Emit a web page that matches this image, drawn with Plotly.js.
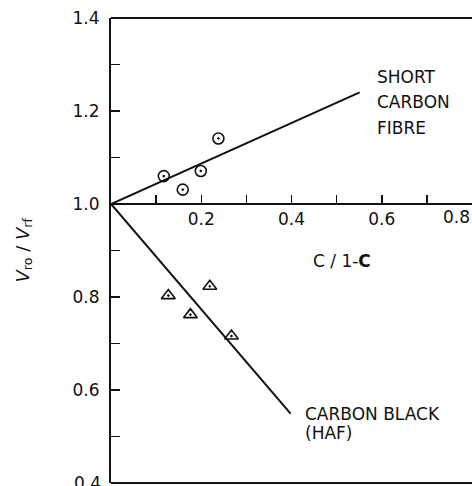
<!DOCTYPE html>
<html>
<head>
<meta charset="utf-8">
<script src="https://cdn.plot.ly/plotly-3.0.1.min.js"></script>
<style>
  html, body { margin: 0; padding: 0; background: #fff; }
  #chart { width: 472px; height: 486px; }
</style>
</head>
<body>
<div id="chart"></div>
<script>
// Measured points: short carbon fibre (circles) and carbon black HAF (triangles)
const fibreX = [0.117, 0.159, 0.199, 0.238];
const fibreY = [1.060, 1.031, 1.071, 1.141];
const blackX = [0.127, 0.176, 0.219, 0.267];
const blackY = [0.803, 0.762, 0.823, 0.716];

// Fitted straight lines through the origin point (0, 1.0)
const fibreLineX = [0, 0.551];
const fibreLineY = [1.0, 1.240];
const blackLineX = [0, 0.398];
const blackLineY = [1.0, 0.549];

// Labelled axis ticks (unlabelled minor ticks every 0.1)
const xTickVals = [0.2, 0.4, 0.6];
const xTickText = ['0.2', '0.4', '0.6'];
const xEdgeTick = 0.8;
const yTickVals = [0.6, 0.8, 1.0, 1.2, 1.4];
const yTickText = ['0.6', '0.8', '1.0', '1.2', '1.4'];
const yEdgeTick = 0.4;

// Curve labels
const fibreLabel = ['SHORT', 'CARBON', 'FIBRE'];
const blackLabel = ['CARBON BLACK', '(HAF)'];

const ink = '#111';
const font = { family: 'DejaVu Sans, sans-serif', size: 17, color: ink };

const traces = [
  { x: fibreLineX, y: fibreLineY, mode: 'lines', line: { color: ink, width: 2 }, hoverinfo: 'skip' },
  { x: blackLineX, y: blackLineY, mode: 'lines', line: { color: ink, width: 2 }, hoverinfo: 'skip' },
  { x: fibreX, y: fibreY, mode: 'markers',
    marker: { symbol: 'circle-open-dot', size: 11, color: ink, line: { width: 1.6, color: ink } } },
  { x: blackX, y: blackY, mode: 'markers',
    marker: { symbol: 'triangle-up-open-dot', size: 12, color: ink, line: { width: 1.6, color: ink } } }
];

const annotations = [];
const fibreLabelY = [1.273, 1.219, 1.163];
fibreLabel.forEach((t, i) => annotations.push({
  x: 0.586, y: fibreLabelY[i], xref: 'x', yref: 'y', text: t,
  xanchor: 'left', yanchor: 'middle', showarrow: false, font: font
}));
const blackLabelY = [0.548, 0.508];
blackLabel.forEach((t, i) => annotations.push({
  x: 0.425, y: blackLabelY[i], xref: 'x', yref: 'y', text: t,
  xanchor: 'left', yanchor: 'middle', showarrow: false, font: font
}));
// Edge tick labels that the axes would otherwise clip
annotations.push({
  x: xEdgeTick, y: 1.0, xref: 'x', yref: 'y', text: xEdgeTick.toFixed(1),
  xanchor: 'center', yanchor: 'middle', xshift: -16, yshift: -13, showarrow: false, font: font
});
annotations.push({
  x: 0, y: yEdgeTick, xref: 'paper', yref: 'y', text: yEdgeTick.toFixed(1),
  xanchor: 'right', yanchor: 'middle', xshift: -8, showarrow: false, font: font
});
// Axis titles
annotations.push({
  x: 0.513, y: 0.877, xref: 'x', yref: 'y', text: 'C / 1-<b>C</b>',
  xanchor: 'center', yanchor: 'middle', showarrow: false, font: font
});
annotations.push({
  x: 0, y: 0.5, xref: 'paper', yref: 'paper', xshift: -88,
  text: '<i>V</i><sub>ro</sub> / <i>V</i><sub>rf</sub>', textangle: -90,
  xanchor: 'center', yanchor: 'middle', showarrow: false,
  font: { family: 'DejaVu Sans, sans-serif', size: 18, color: ink }
});

const layout = {
  width: 472, height: 486,
  margin: { l: 111, r: 0, t: 18, b: 3 },
  paper_bgcolor: '#fff', plot_bgcolor: '#fff',
  showlegend: false,
  font: font,
  xaxis: {
    range: [0, 0.8], anchor: 'free', position: 0.6,
    tickmode: 'array', tickvals: xTickVals, ticktext: xTickText,
    ticks: 'inside', ticklen: 8, tickwidth: 1.5, tickcolor: ink,
    minor: { dtick: 0.1, tick0: 0, ticks: 'inside', ticklen: 8, tickwidth: 1.5, tickcolor: ink, showgrid: false },
    showline: true, linecolor: ink, linewidth: 2,
    showgrid: false, zeroline: false, tickfont: font
  },
  yaxis: {
    range: [0.4, 1.4],
    tickmode: 'array', tickvals: yTickVals, ticktext: yTickText,
    ticks: 'inside', ticklen: 9, tickwidth: 1.5, tickcolor: ink,
    minor: { dtick: 0.1, tick0: 0.4, ticks: 'inside', ticklen: 9, tickwidth: 1.5, tickcolor: ink, showgrid: false },
    showline: true, linecolor: ink, linewidth: 2,
    showgrid: false, zeroline: false, tickfont: font,
    ticklabelstandoff: 6
  },
  shapes: [
    { type: 'line', xref: 'paper', yref: 'paper', x0: 0, x1: 1, y0: 1, y1: 1, line: { color: ink, width: 2 } },
    { type: 'line', xref: 'paper', yref: 'paper', x0: 0, x1: 1, y0: 0, y1: 0, line: { color: ink, width: 2 } }
  ],
  annotations: annotations
};

Plotly.newPlot('chart', traces, layout, { displayModeBar: false, staticPlot: true });
</script>
</body>
</html>
